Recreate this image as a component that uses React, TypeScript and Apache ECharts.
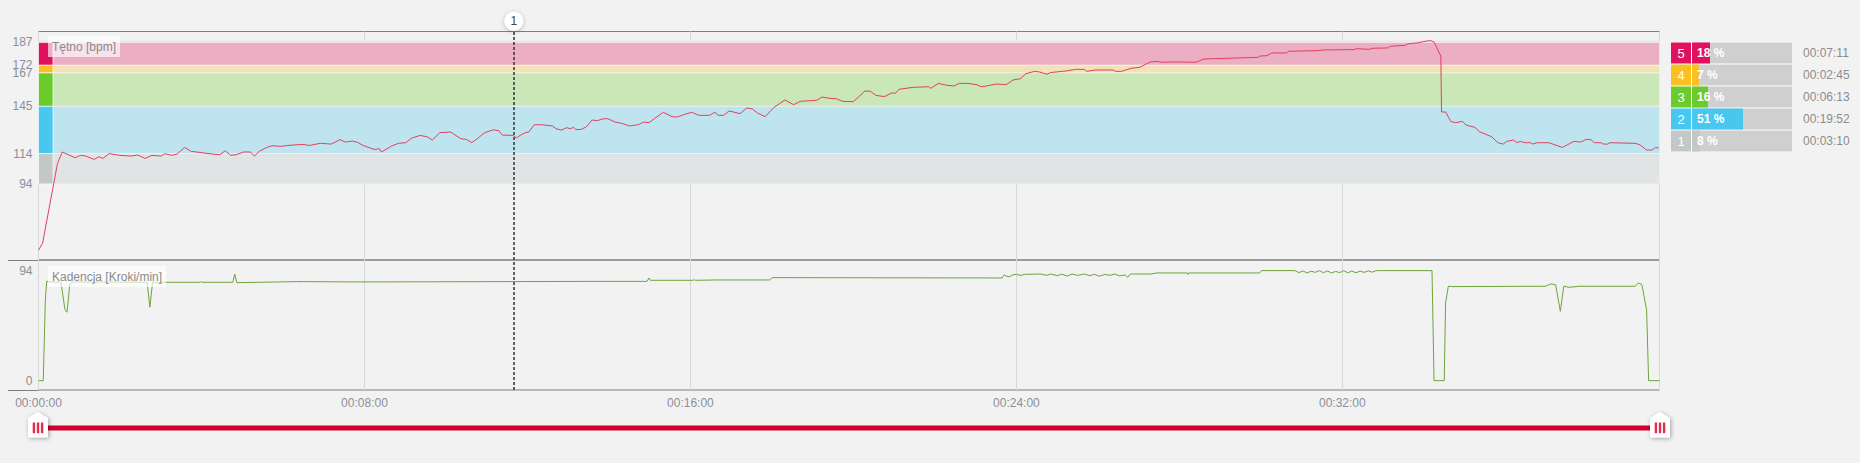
import React, { useEffect, useRef } from "react";
import * as echarts from "echarts";

// ---- data ----
const hrSeconds = [
  0, 6, 28, 35, 54, 62, 70, 82, 89, 95, 104, 120, 136, 146, 157, 167, 181, 186, 196, 204,
  215, 225, 241, 257, 267, 275, 283, 291, 302, 312, 318, 325, 336, 344, 357, 367, 388, 399, 415, 431,
  444, 452, 462, 470, 478, 494, 502, 505, 520, 530, 541, 549, 562, 572, 580, 591, 607, 622, 630, 638,
  646, 657, 670, 678, 683, 699, 704, 709, 717, 722, 730, 741, 757, 762, 770, 778, 783, 788, 791, 799,
  807, 815, 823, 830, 838, 849, 859, 870, 883, 891, 899, 907, 920, 933, 941, 951, 962, 972, 988, 996,
  1001, 1009, 1017, 1033, 1043, 1051, 1059, 1070, 1083, 1099, 1112, 1122, 1146, 1154, 1164, 1175, 1184, 1200, 1217, 1225,
  1233, 1246, 1256, 1262, 1267, 1288, 1311, 1314, 1325, 1338, 1348, 1356, 1369, 1382, 1388, 1396, 1411, 1425, 1435, 1446,
  1454, 1467, 1474, 1485, 1490, 1514, 1527, 1540, 1544, 1556, 1582, 1586, 1595, 1601, 1609, 1622, 1637, 1649, 1652, 1669,
  1704, 1709, 1715, 1796, 1799, 1809, 1816, 1838, 1841, 1883, 1893, 1938, 1940, 1960, 1965, 1988, 1990, 2013, 2015, 2030,
  2045, 2050, 2055, 2065, 2066, 2072, 2080, 2087, 2097, 2102, 2115, 2122, 2140, 2149, 2157, 2162, 2172, 2177, 2182, 2189,
  2197, 2200, 2207, 2224, 2244, 2261, 2271, 2279, 2286, 2291, 2301, 2304, 2311, 2314, 2351, 2358, 2368, 2376, 2381, 2386,
];
const hrBpm = [
  50.5, 55, 107.5, 115, 111.2, 112.8, 112.3, 110.1, 111.9, 110.8, 113.9, 112.8, 112.3, 113, 110.8, 112.8, 112.3, 113.9, 112.8, 113.6,
  118, 115.4, 114.5, 113.6, 113.2, 115.8, 112.8, 113.2, 115, 115, 112.3, 115.4, 118, 119.1, 118.7, 119.3, 120, 119.3, 120.7, 120.2,
  123.1, 121.5, 122.2, 121.3, 119.3, 116.7, 117.1, 115, 118.9, 120.7, 121.1, 124, 125.9, 125, 122.9, 127.7, 128.1, 123.7, 123.3, 121.1,
  123.7, 127.7, 129.6, 129, 126.1, 125.9, 124.2, 125.9, 127.7, 128.1, 132.9, 132.9, 132.1, 130.3, 129.4, 131, 130.3, 131.2, 129.8, 129.8,
  131.6, 136, 135.6, 136.7, 136.9, 134.7, 133.8, 132.1, 132.9, 134.7, 134.3, 136.9, 141.1, 138.2, 138, 139.7, 141.1, 139.1, 139.1, 141.1,
  139.1, 139.1, 142, 140.2, 143.9, 143.3, 140.6, 138.2, 144.3, 149.2, 146.1, 148.3, 149, 151.1, 150.3, 150, 148.3, 148.1, 155.1, 154.9,
  152.2, 151.4, 153.8, 153.6, 156.2, 157.5, 157.9, 156.8, 160.1, 158.8, 158.4, 160.1, 160.1, 159.2, 157.9, 158.4, 159.7, 159.2, 162.3, 163.2,
  166.5, 168, 167.6, 166.1, 167.2, 168.3, 169.3, 169.3, 168, 168.9, 168.9, 168, 168, 168.9, 170, 170.7, 174.2, 174.6, 174, 174.2,
  174, 174.8, 176.1, 177.2, 178.1, 178.3, 180.1, 180.1, 181.2, 181.6, 182.1, 182.3, 182.9, 182.5, 183.2, 183.4, 184.5, 185.1, 186, 186.7,
  188, 188.2, 187.3, 178.1, 141.3, 141.3, 134.9, 134.3, 135.1, 132.7, 131.2, 128.3, 125, 121.1, 120.2, 122, 122.9, 121.1, 122, 121.1,
  121.1, 120.2, 121.1, 121.1, 118, 122, 121.5, 123.3, 123.1, 121.1, 121.1, 120.2, 120.2, 121.1, 120.7, 119.8, 116.3, 116.3, 118, 117.6,
];

const cadSeconds = [
  0, 7, 10, 12, 20, 33, 39, 42, 46, 49, 160, 164, 168, 238, 239, 240, 286, 289, 292, 357,
  358, 359, 380, 472, 699, 824, 896, 899, 901, 964, 966, 967, 999, 1077, 1080, 1419, 1422, 1426, 1430, 1435,
  1440, 1447, 1452, 1475, 1485, 1490, 1500, 1507, 1515, 1522, 1530, 1540, 1548, 1555, 1562, 1570, 1578, 1585, 1592, 1600,
  1604, 1608, 1637, 1647, 1692, 1693, 1694, 1798, 1801, 1850, 1856, 1862, 1868, 1874, 1880, 1886, 1892, 1898, 1904, 1910,
  1916, 1922, 1928, 1934, 1940, 1946, 1952, 1958, 1964, 1970, 1975, 2052, 2055, 2070, 2072, 2076, 2082, 2219, 2227, 2234,
  2241, 2246, 2254, 2269, 2351, 2356, 2361, 2368, 2371, 2387,
];
const cadSpm = [
  0, 0, 68, 85.1, 84.6, 84.3, 60.9, 58.6, 82.3, 84.6, 84.3, 62.9, 84.3, 84.3, 85, 84.3, 84.3, 91.4, 84, 84.6,
  85.3, 84.6, 84.9, 84.6, 84.9, 85.1, 85.1, 88, 86, 86, 86.6, 86, 86.3, 86.3, 88.3, 88, 90.6, 89.4, 89.1, 90.8,
  91.1, 90.2, 91.1, 91.4, 90.3, 91.4, 90, 91.2, 89.7, 91.4, 90.2, 91.4, 90, 91.1, 89.5, 91, 90.3, 91.4, 89.8, 90.6,
  88.6, 91.4, 91.4, 92.3, 92.3, 91, 92.3, 92.3, 94.3, 94.3, 92.6, 94, 92.3, 93.8, 92.8, 94.3, 92.5, 94, 92.3, 93.6,
  92.6, 94.3, 92.4, 94, 92.5, 93.8, 92.8, 94.1, 93, 94.3, 94.3, 94.3, 0, 0, 66.6, 80.9, 80.6, 80.9, 82.9, 82.3,
  59.4, 80.9, 80, 80.9, 80.9, 83.7, 82.3, 60.9, 0, 0,
];

const zoneIds = ["5", "4", "3", "2", "1"];
const zoneLow = [172, 167, 145, 114, 94];
const zoneHigh = [187, 172, 167, 145, 114];
const zonePct = [18, 7, 16, 51, 8];
const zoneTime = ["00:07:11", "00:02:45", "00:06:13", "00:19:52", "00:03:10"];
const zoneColors = ["#e0115f", "#fbbf22", "#6bcb2b", "#48c8ef", "#c2c8c7"];
const zoneBandColors = ["#ecaec3", "#f2e3b5", "#cae7b7", "#bee5ef", "#e1e4e4"];

const hrTicks = [94, 114, 145, 167, 172, 187];
const cadTicks = [0, 94];
const timeTicks = [0, 480, 960, 1440, 1920];
const totalSeconds = 2387;
const markerSeconds = 700;
const markerLabel = "1";

const FONT = "'Liberation Sans', Arial, sans-serif";
const LABEL = "#8c8f99";

function fmtTime(s: number): string {
  const h = Math.floor(s / 3600);
  const m = Math.floor((s % 3600) / 60);
  const sec = Math.round(s % 60);
  const p = (n: number) => String(n).padStart(2, "0");
  return `${p(h)}:${p(m)}:${p(sec)}`;
}

function handle(cx: number) {
  return {
    type: "group",
    children: [
      {
        type: "polygon",
        shape: {
          points: [
            [cx, 412],
            [cx + 10, 418],
            [cx + 10, 437.5],
            [cx - 10, 437.5],
            [cx - 10, 418],
          ],
        },
        style: {
          fill: "#ffffff",
          shadowBlur: 4,
          shadowColor: "rgba(0,0,0,0.35)",
          shadowOffsetX: 1,
          shadowOffsetY: 1,
        },
      },
      ...[-5.3, -1.2, 2.9].map((dx) => ({
        type: "rect",
        shape: { x: cx + dx, y: 422.5, width: 2.4, height: 10.7 },
        style: { fill: "#e0304d" },
      })),
    ],
  };
}

export default function App() {
  const ref = useRef<HTMLDivElement>(null);

  useEffect(() => {
    document.body.style.margin = "0";
    document.body.style.background = "#f2f2f2";
    if (!ref.current) return;
    const chart = echarts.init(ref.current, undefined, { renderer: "svg" });

    const hrData = hrSeconds.map((t, i) => [t, hrBpm[i]]);
    const cadData = cadSeconds.map((t, i) => [t, cadSpm[i]]);

    const bandAreas: any[] = [
      [
        { yAxis: 187, itemStyle: { color: "#e7e7e7" } },
        { yAxis: 188.3 },
      ],
    ];
    zoneIds.forEach((_, i) => {
      bandAreas.push([
        {
          yAxis: zoneLow[i],
          itemStyle: {
            color: zoneBandColors[i],
            borderColor: "rgba(245,245,245,0.8)",
            borderWidth: 0.8,
          },
        },
        { yAxis: zoneHigh[i] },
      ]);
    });
    zoneIds.forEach((_, i) => {
      bandAreas.push([
        {
          xAxis: 0,
          yAxis: zoneLow[i],
          itemStyle: {
            color: zoneColors[i],
            borderColor: "rgba(255,255,255,0.8)",
            borderWidth: 0.8,
          },
        },
        { xAxis: 21.3, yAxis: zoneHigh[i] },
      ]);
    });

    const markerLine = {
      silent: true,
      symbol: ["none", "none"],
      lineStyle: { color: "#333", width: 1.5, type: [3, 2] },
    };

    const option: any = {
      animation: false,
      backgroundColor: "#f2f2f2",
      textStyle: { fontFamily: FONT },
      title: [
        {
          text: "Tętno [bpm]",
          left: 48,
          top: 36,
          padding: [4, 4, 4, 4],
          backgroundColor: "rgba(255,255,255,0.65)",
          textStyle: { fontSize: 12, fontWeight: "normal", color: "#8a8a8a", lineHeight: 13, fontFamily: FONT },
        },
        {
          text: "Kadencja [Kroki/min]",
          left: 48,
          top: 266,
          padding: [4, 4, 4, 4],
          backgroundColor: "rgba(255,255,255,0.65)",
          textStyle: { fontSize: 12, fontWeight: "normal", color: "#8a8a8a", lineHeight: 13, fontFamily: FONT },
        },
      ],
      grid: [
        { left: 38.5, top: 31.5, width: 1621, height: 228.5, show: true, borderColor: "#7f7f7f", borderWidth: 1, backgroundColor: "transparent" },
        { left: 38.5, top: 260, width: 1621, height: 130, show: true, borderColor: "#7f7f7f", borderWidth: 1, backgroundColor: "transparent" },
        { left: 1671, top: 42, width: 21, height: 110, show: true, borderWidth: 0, backgroundColor: "#ffffff" },
        { left: 1692, top: 42, width: 100, height: 110, show: true, borderWidth: 0, backgroundColor: "#ffffff" },
      ],
      xAxis: [
        {
          gridIndex: 0, type: "value", min: 0, max: totalSeconds, interval: 480,
          axisLine: { show: false }, axisTick: { show: false }, axisLabel: { show: false },
          splitLine: { show: true, lineStyle: { color: "#d9d9d9", width: 1 } },
        },
        {
          gridIndex: 1, type: "value", min: 0, max: totalSeconds, interval: 480,
          axisLine: { show: false }, axisTick: { show: false },
          axisLabel: {
            show: true, customValues: timeTicks,
            formatter: (v: number) => fmtTime(v), color: LABEL, fontSize: 12, margin: 7, fontFamily: FONT,
          },
          splitLine: { show: true, lineStyle: { color: "#d9d9d9", width: 1 } },
        },
        { gridIndex: 2, type: "value", min: 0, max: 1.05, show: false },
        { gridIndex: 3, type: "value", min: 0, max: 100, show: false },
      ],
      yAxis: [
        {
          gridIndex: 0, type: "value", min: 44, max: 194.2,
          axisLine: { show: false }, axisTick: { show: false }, splitLine: { show: false },
          axisLabel: { customValues: hrTicks, color: LABEL, fontSize: 12, margin: 6, fontFamily: FONT },
        },
        {
          gridIndex: 1, type: "value", min: -8, max: 103.4,
          axisLine: { show: false }, axisTick: { show: false }, splitLine: { show: false },
          axisLabel: { customValues: cadTicks, color: LABEL, fontSize: 12, margin: 6, fontFamily: FONT },
        },
        {
          gridIndex: 2, type: "category", data: zoneIds, inverse: true,
          axisLine: { show: false }, axisTick: { show: false }, axisLabel: { show: false },
        },
        {
          gridIndex: 3, type: "category", data: zoneTime, inverse: true, position: "right",
          axisLine: { show: false }, axisTick: { show: false },
          axisLabel: { show: true, color: "#8c8c8c", fontSize: 12, margin: 11, fontFamily: FONT },
        },
      ],
      series: [
        {
          name: "Tętno",
          type: "line",
          xAxisIndex: 0,
          yAxisIndex: 0,
          data: hrData,
          showSymbol: false,
          symbol: "none",
          lineStyle: { color: "#e0405e", width: 1 },
          itemStyle: { color: "#e0405e" },
          markArea: { silent: true, data: bandAreas },
          markLine: {
            ...markerLine,
            label: {
              show: true,
              position: "end",
              formatter: markerLabel,
              distance: 1,
              backgroundColor: "#ffffff",
              borderRadius: 10,
              width: 19,
              height: 19,
              lineHeight: 19,
              align: "center",
              color: "#444",
              fontSize: 12,
              fontFamily: FONT,
              shadowBlur: 4,
              shadowColor: "rgba(0,0,0,0.25)",
              shadowOffsetY: 1,
            },
            data: [{ xAxis: markerSeconds }],
          },
        },
        {
          name: "Kadencja",
          type: "line",
          xAxisIndex: 1,
          yAxisIndex: 1,
          data: cadData,
          showSymbol: false,
          symbol: "none",
          lineStyle: { color: "#6ea33a", width: 1 },
          itemStyle: { color: "#6ea33a" },
          markLine: { ...markerLine, label: { show: false }, data: [{ xAxis: markerSeconds }] },
        },
        {
          type: "bar",
          xAxisIndex: 2,
          yAxisIndex: 2,
          barWidth: 21,
          silent: true,
          data: zoneIds.map((id, i) => ({ value: 1, name: id, itemStyle: { color: zoneColors[i] } })),
          label: {
            show: true,
            position: "inside",
            formatter: (p: any) => p.name,
            color: "#ffffff",
            fontSize: 13,
            fontFamily: FONT,
          },
        },
        {
          type: "bar",
          xAxisIndex: 3,
          yAxisIndex: 3,
          barWidth: 21,
          silent: true,
          showBackground: true,
          backgroundStyle: { color: "#cfcfcf" },
          data: zonePct.map((v, i) => ({ value: v, itemStyle: { color: zoneColors[i] } })),
          label: {
            show: true,
            position: "insideLeft",
            distance: 5,
            formatter: (p: any) => `${p.value} %`,
            color: "#ffffff",
            fontSize: 12,
            fontWeight: "bold",
            fontFamily: FONT,
          },
        },
      ],
      graphic: [
        { type: "line", shape: { x1: 8, y1: 260.5, x2: 38.5, y2: 260.5 }, style: { stroke: "#7f7f7f", lineWidth: 1 } },
        { type: "line", shape: { x1: 8, y1: 390.5, x2: 38.5, y2: 390.5 }, style: { stroke: "#7f7f7f", lineWidth: 1 } },
        { type: "rect", shape: { x: 38, y: 425.5, width: 1622, height: 5 }, style: { fill: "#d0002a" } },
        handle(38),
        handle(1660),
      ],
    };

    chart.setOption(option);
    return () => chart.dispose();
  }, []);

  return <div ref={ref} style={{ width: 1860, height: 463, background: "#f2f2f2" }} />;
}
